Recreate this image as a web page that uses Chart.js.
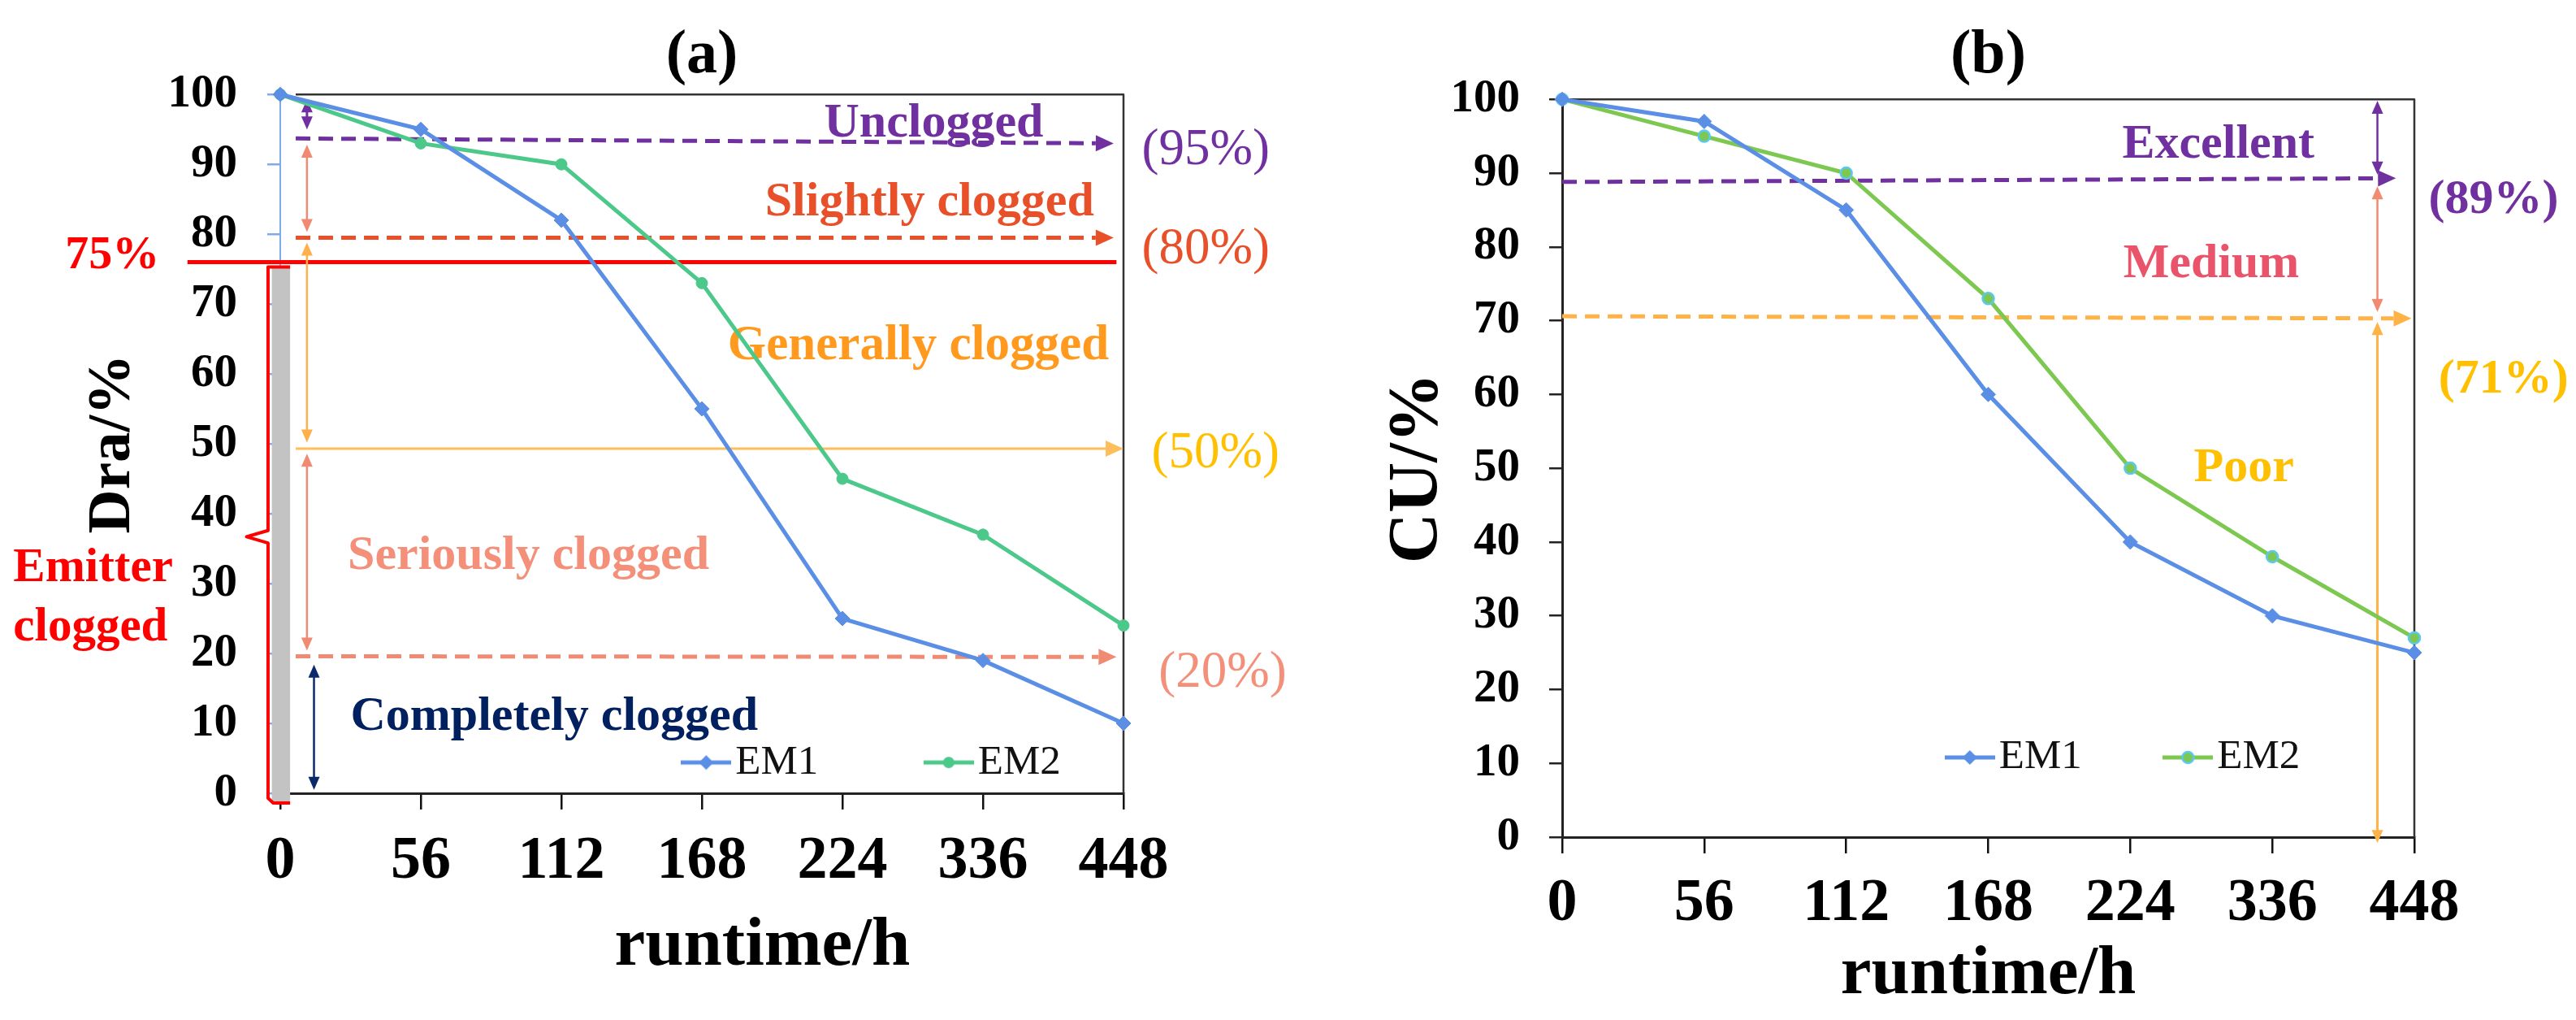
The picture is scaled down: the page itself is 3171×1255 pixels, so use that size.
<!DOCTYPE html>
<html lang="en">
<head>
<meta charset="UTF-8">
<title>Dra and CU of emitters over runtime</title>
<style>
  html, body { margin: 0; padding: 0; background: #fff; overflow: hidden; }
  #wrapA { position: absolute; left: 0; top: 0; width: 1600px; height: 1255px; }
  #wrapB { position: absolute; left: 1600px; top: 0; width: 1571px; height: 1255px; }
</style>
</head>
<body>
<div id="wrapA"><canvas id="chartA" width="1600" height="1255"></canvas></div>
<div id="wrapB"><canvas id="chartB" width="1571" height="1255"></canvas></div>

<script src="https://cdn.jsdelivr.net/npm/chart.js@4/dist/chart.umd.min.js"></script>
<script>
// runtime (h) categories and values
const runtimeLabels = ['0', '56', '112', '168', '224', '336', '448'];
const yTickValues = [0, 10, 20, 30, 40, 50, 60, 70, 80, 90, 100];

const draEM1 = [100, 95, 82, 55, 25, 19, 10];
const draEM2 = [100, 93, 90, 73, 45, 37, 24];
const cuEM1 = [100, 97, 85, 60, 40, 30, 25];
const cuEM2 = [100, 95, 90, 73, 50, 38, 27];

const fontFam = "'Liberation Serif', 'Times New Roman', serif";
const blue = '#5B8FE6';
const greenA = '#4CC98A';
const greenB = '#7DC850';
const purple = '#7030A0';

// annotation marks, positions in axis units (x = category index, y = %)
const marksA = [
  { kind: 'box', x: [-0.06, 0.07], y: [75.2, -1.3], color: '#C3C3C3' },
  { kind: 'path', color: '#FF0000', width: 4, pts: [[0.07, 75.3], [-0.087, 75.3], [-0.087, 37.6], [-0.24, 36.7], [-0.087, 35.8], [-0.087, -0.7], [-0.05, -1.4], [0.07, -1.4]] },
  { kind: 'path', color: '#333', width: 2.5, pts: [[0.11, 100], [6, 100], [6, 0]] },
  { kind: 'rule', x: [-0.66, 5.95], y: [76, 76], color: '#FF0000', width: 5 },
  { kind: 'rule', x: [0.11, 5.93], y: [93.7, 93.0], color: purple, width: 5, dash: [18, 10], arrow: true },
  { kind: 'rule', x: [0.11, 5.93], y: [79.5, 79.5], color: '#E8502A', width: 5, dash: [18, 10], arrow: true },
  { kind: 'rule', x: [0.11, 6.0], y: [49.3, 49.3], color: '#FFBE5C', width: 3, arrow: true },
  { kind: 'rule', x: [0.11, 5.95], y: [19.6, 19.5], color: '#F08A72', width: 5, dash: [18, 10], arrow: true },
  { kind: 'span', x: 0.19, y: [99.3, 95.0], color: purple, width: 3 },
  { kind: 'span', x: 0.19, y: [92.8, 80.3], color: '#F08A72', width: 2.5 },
  { kind: 'span', x: 0.19, y: [78.8, 50.2], color: '#FFB04A', width: 2.5 },
  { kind: 'span', x: 0.19, y: [48.6, 20.4], color: '#F08A72', width: 2.5 },
  { kind: 'span', x: 0.24, y: [18.4, 0.5], color: '#0B2A6B', width: 2.5 },
  { kind: 'text', text: 'Unclogged', x: 4.65, y: 93.95, size: 60, color: purple },
  { kind: 'text', text: '(95%)', x: 6.13, y: 92.0, size: 63, weight: 'normal', align: 'left', base: 'middle', color: purple },
  { kind: 'text', text: 'Slightly clogged', x: 4.62, y: 82.7, size: 60, color: '#E8502A' },
  { kind: 'text', text: '(80%)', x: 6.13, y: 77.7, size: 63, weight: 'normal', align: 'left', base: 'middle', color: '#E8502A' },
  { kind: 'text', text: 'Generally clogged', x: 4.54, y: 62.1, size: 61, color: '#FF9A1E' },
  { kind: 'text', text: '(50%)', x: 6.2, y: 48.6, size: 63, weight: 'normal', align: 'left', base: 'middle', color: '#FFC000' },
  { kind: 'text', text: 'Seriously clogged', x: 0.48, y: 32.1, size: 60, align: 'left', color: '#F4907A' },
  { kind: 'text', text: '(20%)', x: 6.25, y: 17.2, size: 63, weight: 'normal', align: 'left', base: 'middle', color: '#F4907A' },
  { kind: 'text', text: 'Completely clogged', x: 0.5, y: 9.1, size: 60, align: 'left', color: '#002060' },
  { kind: 'text', text: '75%', x: -0.86, y: 76.9, size: 58, align: 'right', base: 'middle', color: '#FF0000' },
  { kind: 'text', text: 'Emitter', x: -1.9, y: 30.3, size: 59, align: 'left', color: '#FF0000' },
  { kind: 'text', text: 'clogged', x: -1.9, y: 21.9, size: 59, align: 'left', color: '#FF0000' },
  { kind: 'text', text: 'runtime/h', x: 3.43, y: -22, size: 85, base: 'middle', color: '#000' }
];

const marksB = [
  { kind: 'path', color: '#333', width: 2.5, pts: [[0, 100], [6, 100], [6, 0]] },
  { kind: 'rule', x: [0, 5.87], y: [88.8, 89.3], color: purple, width: 5, dash: [18, 10], arrow: true },
  { kind: 'rule', x: [0, 5.98], y: [70.6, 70.3], color: '#FFB347', width: 5, dash: [18, 10], arrow: true },
  { kind: 'span', x: 5.74, y: [99.8, 89.8], color: purple, width: 2.5 },
  { kind: 'span', x: 5.74, y: [88.2, 71.2], color: '#F08A72', width: 2.5 },
  { kind: 'span', x: 5.74, y: [69.8, -0.8], color: '#FFB347', width: 3 },
  { kind: 'text', text: 'Excellent', x: 4.62, y: 92.1, size: 60, color: purple },
  { kind: 'text', text: '(89%)', x: 6.1, y: 86.3, size: 60, align: 'left', base: 'middle', color: purple },
  { kind: 'text', text: 'Medium', x: 4.57, y: 75.9, size: 60, color: '#E9546B' },
  { kind: 'text', text: '(71%)', x: 6.17, y: 62, size: 60, align: 'left', base: 'middle', color: '#FFC000' },
  { kind: 'text', text: 'Poor', x: 4.8, y: 50, size: 60, base: 'middle', color: '#FFC000' }
];

function head(ctx, x, y, ang, len, half) {
  ctx.save();
  ctx.translate(x, y);
  ctx.rotate(ang);
  ctx.beginPath();
  ctx.moveTo(0, 0);
  ctx.lineTo(-len, -half);
  ctx.lineTo(-len, half);
  ctx.closePath();
  ctx.fill();
  ctx.restore();
}

function drawMark(chart, ctx, it) {
  const X = v => chart.scales.x.getPixelForValue(v);
  const Y = v => chart.scales.y.getPixelForValue(v);
  ctx.save();
  ctx.strokeStyle = it.color;
  ctx.fillStyle = it.color;
  ctx.lineWidth = it.width || 3;
  ctx.lineJoin = 'round';
  if (it.kind === 'box') {
    const x0 = X(it.x[0]), x1 = X(it.x[1]), y0 = Y(it.y[0]), y1 = Y(it.y[1]);
    ctx.fillRect(x0, y0, x1 - x0, y1 - y0);
  } else if (it.kind === 'path') {
    ctx.beginPath();
    it.pts.forEach((p, i) => i ? ctx.lineTo(X(p[0]), Y(p[1])) : ctx.moveTo(X(p[0]), Y(p[1])));
    ctx.stroke();
  } else if (it.kind === 'rule') {
    const x0 = X(it.x[0]), x1 = X(it.x[1]), y0 = Y(it.y[0]), y1 = Y(it.y[1]);
    const ang = Math.atan2(y1 - y0, x1 - x0);
    const hl = it.arrow ? 22 : 0;
    ctx.setLineDash(it.dash || []);
    ctx.beginPath();
    ctx.moveTo(x0, y0);
    ctx.lineTo(x1 - hl * Math.cos(ang), y1 - hl * Math.sin(ang));
    ctx.stroke();
    ctx.setLineDash([]);
    if (it.arrow) head(ctx, x1, y1, ang, 22, 10);
  } else if (it.kind === 'span') {
    const x = X(it.x), y0 = Y(it.y[0]), y1 = Y(it.y[1]);
    const hl = 16;
    ctx.beginPath();
    ctx.moveTo(x, y0 + hl * 0.8);
    ctx.lineTo(x, y1 - hl * 0.8);
    ctx.stroke();
    head(ctx, x, y0, -Math.PI / 2, hl, 7);
    head(ctx, x, y1, Math.PI / 2, hl, 7);
  } else if (it.kind === 'text') {
    ctx.font = (it.weight || 'bold') + ' ' + it.size + 'px ' + fontFam;
    ctx.textAlign = it.align || 'center';
    ctx.textBaseline = it.base || 'alphabetic';
    ctx.fillText(it.text, X(it.x), Y(it.y));
  }
  ctx.restore();
}

function marksPlugin(items) {
  return {
    id: 'panelMarks',
    beforeDatasetsDraw(chart) {
      items.forEach(it => drawMark(chart, chart.ctx, it));
    }
  };
}

// the legend takes 1px at the top, then gets moved inside the plot (axis units)
function legendPlace(x, y, pad, fontSize) {
  return {
    id: 'legendPlace',
    afterLayout(chart) {
      const lg = chart.legend;
      if (!lg) return;
      const w = chart.chartArea.right - chart.chartArea.left;
      lg.left = chart.scales.x.getPixelForValue(x) - pad;
      lg.top = chart.scales.y.getPixelForValue(y) - pad - fontSize / 2;
      lg.right = lg.left + w;
      lg.bottom = lg.top + fontSize + 2 * pad;
    }
  };
}

function legendIcon(color, style, fill, border) {
  const c = document.createElement('canvas');
  c.width = 62; c.height = 24;
  const g = c.getContext('2d');
  g.strokeStyle = color; g.lineWidth = 5;
  g.beginPath(); g.moveTo(0, 12); g.lineTo(62, 12); g.stroke();
  g.fillStyle = fill;
  g.beginPath();
  if (style === 'rectRot') {
    g.moveTo(31, 3); g.lineTo(40, 12); g.lineTo(31, 21); g.lineTo(22, 12); g.closePath();
    g.fill();
  } else {
    g.arc(31, 12, 7, 0, Math.PI * 2);
    g.fill();
    if (border) { g.strokeStyle = border; g.lineWidth = 2.5; g.stroke(); }
  }
  return c;
}

function makeChart(id, cfg) {
  const icons = cfg.icons;
  return new Chart(document.getElementById(id), {
    type: 'line',
    data: {
      labels: runtimeLabels,
      datasets: [
        { label: 'EM1', data: cfg.em1, borderColor: blue, backgroundColor: blue, borderWidth: 5,
          pointStyle: 'rectRot', pointRadius: 9, pointBackgroundColor: blue, pointBorderColor: blue,
          pointBorderWidth: 1, clip: false },
        { label: 'EM2', data: cfg.em2, borderColor: cfg.green, backgroundColor: cfg.green, borderWidth: 5,
          pointStyle: 'circle', pointRadius: 7, pointBackgroundColor: cfg.green,
          pointBorderColor: cfg.em2Border || cfg.green, pointBorderWidth: cfg.em2Border ? 2.5 : 1, clip: false }
      ]
    },
    options: {
      responsive: false,
      animation: false,
      devicePixelRatio: 1,
      layout: { padding: { left: 0, top: 0, right: cfg.padRight, bottom: 0 } },
      plugins: {
        title: {
          display: true, text: cfg.title, fullSize: false, color: '#000',
          font: { family: fontFam, size: 76, weight: 'bold' },
          padding: { top: 24, bottom: cfg.titleBottom }
        },
        legend: {
          position: 'top', align: 'start', fullSize: false, maxHeight: 1,
          labels: {
            usePointStyle: true, pointStyleWidth: 21, padding: cfg.legendGap,
            color: '#111', font: { family: fontFam, size: 51 },
            generateLabels: chart => Chart.defaults.plugins.legend.labels.generateLabels(chart)
              .map((item, i) => Object.assign(item, { pointStyle: icons[i] }))
          }
        },
        tooltip: { enabled: false }
      },
      scales: {
        x: {
          type: 'category',
          afterFit: s => { s.height = cfg.xHeight; },
          grid: { drawOnChartArea: false, drawTicks: true, tickLength: 20, color: '#111', lineWidth: 2.5 },
          border: { display: true, color: '#222', width: 3 },
          ticks: { color: '#000', autoSkip: false, maxRotation: 0, padding: cfg.xPad,
                   font: { family: fontFam, size: 74, weight: 'bold' } },
          title: cfg.xTitle
        },
        y: {
          min: 0, max: 100,
          afterFit: s => { s.width = cfg.yWidth; },
          afterBuildTicks: s => { s.ticks = yTickValues.map(v => ({ value: v })); },
          grid: { drawOnChartArea: false, drawTicks: true, tickLength: 16, color: cfg.yColor, lineWidth: 2.5 },
          border: { display: true, color: cfg.yColor, width: cfg.yBorder },
          ticks: { color: '#000', autoSkip: false, padding: cfg.yPad,
                   font: { family: fontFam, size: 57, weight: 'bold' } },
          title: {
            display: true, text: cfg.yTitle, color: '#000',
            font: { family: fontFam, size: cfg.yTitleSize, weight: 'bold' },
            padding: { top: cfg.yTitlePad, bottom: 0 }
          }
        }
      }
    },
    plugins: [marksPlugin(cfg.marks), legendPlace(cfg.legendX, cfg.legendY, cfg.legendGap, 51)]
  });
}

makeChart('chartA', {
  title: '(a)', em1: draEM1, em2: draEM2, green: greenA,
  icons: [legendIcon(blue, 'rectRot', blue), legendIcon(greenA, 'circle', greenA)],
  padRight: 217, titleBottom: 0, xHeight: 279, yWidth: 345, xPad: 20, yPad: 37,
  yColor: '#7FAAEC', yBorder: 2,
  yTitle: 'Dra/%', yTitleSize: 75, yTitlePad: 95,
  xTitle: { display: false },
  marks: marksA, legendX: 2.97, legendY: 4.4, legendGap: 150
});

makeChart('chartB', {
  title: '(b)', em1: cuEM1, em2: cuEM2, green: greenB, em2Border: '#5BC8F0',
  icons: [legendIcon(blue, 'rectRot', blue), legendIcon(greenB, 'circle', greenB, '#5BC8F0')],
  padRight: 199, titleBottom: 6, xHeight: 225, yWidth: 323, xPad: 18, yPad: 36,
  yColor: '#222', yBorder: 3,
  yTitle: 'CU/%', yTitleSize: 86, yTitlePad: 94,
  xTitle: { display: true, text: 'runtime/h', color: '#000',
            font: { family: fontFam, size: 85, weight: 'bold' }, padding: { top: 0, bottom: 4 } },
  marks: marksB, legendX: 2.81, legendY: 10.8, legendGap: 120
});
</script>
</body>
</html>
